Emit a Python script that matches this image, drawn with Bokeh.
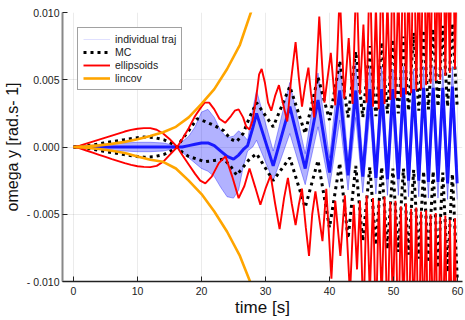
from bokeh.plotting import figure
from bokeh.models import Range1d, FixedTicker, Legend, LegendItem
from bokeh.embed import file_html
from bokeh.resources import INLINE

# ---------------- data ----------------
x_ticks = [0, 10, 20, 30, 40, 50, 60]
y_ticks = [-0.01, -0.005, 0.0, 0.005, 0.01]
y_tick_labels = ["- 0.010", "- 0.005", "0.000", "0.005", "0.010"]

# lincov (orange)
lc_t = [0, 2, 4, 6, 8, 10, 12, 14, 16, 18, 20, 22, 24, 26, 28, 29]
lc_up = [0, 0.00005, 0.00012, 0.00023, 0.00038, 0.00058, 0.00082, 0.0011, 0.0015,
         0.0022, 0.0032, 0.0043, 0.0058, 0.0076, 0.0104, 0.0118]
lc_lo = [0, -0.00006, -0.00015, -0.00028, -0.00045, -0.0007, -0.00095, -0.0011, -0.0016,
         -0.0025, -0.0035, -0.0048, -0.0063, -0.0081, -0.0105, -0.012]

# ellipsoids (red), upper curve
ell_up_t = [0, 1, 2, 3, 4, 5, 6, 7, 8, 9, 10, 11, 12, 13, 14, 15, 16.2, 17, 18, 19, 20,
            20.5, 21.2, 22, 22.8, 23.7, 24.6, 25.2, 25.8, 26.5, 27.0, 27.5, 28.0, 28.5,
            29.0, 29.4, 29.9, 30.4, 30.9, 31.5, 32.1, 32.7, 33.4, 34.0, 34.7, 35.2, 35.7,
            36.2, 36.7, 37.1, 37.6, 38.4, 39.2, 40.2, 40.9, 41.6, 42.3, 43.0, 43.6,
            44.2, 44.75, 45.3, 45.8, 46.3, 46.8, 47.25, 47.7, 48.15, 48.6, 49.05, 49.5,
            49.9, 50.3, 50.75, 51.15, 51.55, 51.95, 52.35, 52.75, 53.15, 53.55, 53.95,
            54.3, 54.7, 55.1, 55.45, 55.8, 56.2, 56.6, 56.95, 57.3, 57.7, 58.1, 58.45,
            58.8, 59.2, 59.6, 59.95]
ell_up = [0, 0.0001, 0.00025, 0.0004, 0.00055, 0.0007, 0.00085, 0.001, 0.00115, 0.00127,
          0.00136, 0.0014, 0.0014, 0.00128, 0.001, 0.0006, 0.0, 0.0006, 0.0014, 0.0023, 0.003,
          0.0033, 0.0033, 0.0028, 0.0021, 0.0018, 0.0023, 0.0027, 0.0028, 0.0022, 0.0015,
          0.0013, 0.002, 0.0035, 0.0054, 0.0058, 0.0048, 0.0033, 0.0027, 0.0038, 0.0046,
          0.0033, 0.0019, 0.005, 0.0078, 0.0052, 0.003, 0.0046, 0.0059, 0.004, 0.0022,
          0.0097, 0.0033, 0.0070, 0.0031, 0.0115, 0.0036, 0.0081, 0.0032,
          0.013, 0.0039, 0.0091, 0.0033, 0.014, 0.003, 0.0105, 0.0028, 0.015, 0.0032,
          0.011, 0.0035, 0.016, 0.0036, 0.012, 0.0037, 0.017, 0.0039, 0.0125, 0.004,
          0.018, 0.0042, 0.013, 0.0043, 0.018, 0.0046, 0.0135, 0.0047, 0.019, 0.0049,
          0.014, 0.005, 0.019, 0.0053, 0.0145, 0.0055, 0.02, 0.0058, 0.015]

# ellipsoids (red), lower curve
ell_lo_t = [0, 1, 2, 3, 4, 5, 6, 7, 8, 9, 10, 11, 12, 13, 14, 15, 16.2, 17, 18, 19, 19.8,
            20.6, 21.6, 22.7, 23.75, 24.8, 25.8, 26.7, 27.5, 28.4, 29.2, 30.0, 30.8, 31.5,
            32.2, 32.9, 33.5, 34.1, 34.7, 35.2, 35.7, 36.3, 36.8, 37.3, 37.8, 38.9, 39.5,
            40.3, 40.9, 41.7, 42.4, 43.2, 43.8,
            44.3, 44.75, 45.3, 45.8, 46.3, 46.8, 47.25, 47.7, 48.15, 48.6, 49.05, 49.5,
            49.9, 50.3, 50.75, 51.15, 51.55, 51.95, 52.35, 52.75, 53.15, 53.55, 53.95,
            54.3, 54.7, 55.1, 55.45, 55.8, 56.2, 56.6, 56.95, 57.3, 57.7, 58.1, 58.45,
            58.8, 59.2, 59.6, 59.95]
ell_lo = [0, -0.0001, -0.00026, -0.00042, -0.00058, -0.00074, -0.0009, -0.00105, -0.0012,
          -0.00133, -0.00143, -0.00148, -0.0015, -0.0014, -0.0011, -0.0006, 0.0, -0.0006,
          -0.0013, -0.002, -0.0025,
          -0.0027, -0.0022, -0.0012, -0.0007, -0.0022, -0.0038, -0.0029, -0.0016, -0.003,
          -0.0043, -0.0031, -0.0021, -0.0042, -0.0061, -0.0038, -0.0023, -0.0042, -0.0058,
          -0.0043, -0.0031, -0.006, -0.0081, -0.005, -0.0033, -0.007, -0.0031, -0.0098,
          -0.004, -0.0081, -0.0036, -0.011, -0.0043,
          -0.0091, -0.004, -0.013, -0.0036, -0.011, -0.0038, -0.0135, -0.004, -0.0115,
          -0.0037, -0.014, -0.0041, -0.012, -0.004, -0.015, -0.0044, -0.0125, -0.0042,
          -0.016, -0.0046, -0.013, -0.0045, -0.017, -0.0048, -0.0135, -0.0047, -0.018,
          -0.005, -0.014, -0.0049, -0.018, -0.0052, -0.0145, -0.0051, -0.019, -0.0054,
          -0.015, -0.0053, -0.02]

# MC (black dotted)
mc_t = [0, 1.6, 3.2, 4.7, 6.3, 7.9, 9.4, 11.0, 12.5, 14.1, 15.4, 16.2, 17, 18, 19.3, 20.5,
        22, 23.5, 24.5, 25.5, 26.5, 27.5,
        28.6, 31.2, 33.8, 36.2, 38.2, 40.0, 41.6, 42.9, 44.1, 45.2, 46.3, 47.25, 48.15,
        49.05, 49.9, 50.75, 51.55, 52.35, 53.15, 53.95, 54.7, 55.45, 56.2, 56.95, 57.7,
        58.45, 59.2, 59.95]
mc_up = [0, 0.00005, 0.00017, 0.0003, 0.00042, 0.00054, 0.00066, 0.00074, 0.00071,
         0.00054, 0.00024, 0, 0.0006, 0.0012, 0.0021, 0.0019, 0.0016, 0.0012, 0.0006,
         0.0004, 0.001, 0.0022,
         0.0033, 0.0015, 0.0045, 0.001, 0.0052, 0.002, 0.0064, 0.0022, 0.0071, 0.0022,
         0.0075, 0.0023, 0.0078, 0.0025, 0.008, 0.0025, 0.0082, 0.0027, 0.0085, 0.0027,
         0.0087, 0.0028, 0.0088, 0.003, 0.009, 0.003, 0.0092, 0.003]
mc_lo = [0, -0.00005, -0.00018, -0.00031, -0.00044, -0.00056, -0.00068, -0.00076,
         -0.00073, -0.00056, -0.00025, 0, -0.0004, -0.0007, -0.0009, -0.0011, -0.001,
         -0.0009, -0.0014, -0.0021, -0.0015, -0.0009,
         -0.0005, -0.0025, -0.0008, -0.0045, -0.001, -0.006, -0.0012, -0.0068, -0.0014,
         -0.007, -0.0015, -0.0073, -0.0015, -0.0076, -0.0016, -0.0078, -0.0016, -0.008,
         -0.0017, -0.0083, -0.0018, -0.0086, -0.0018, -0.009, -0.0019, -0.0093, -0.002,
         -0.0097]

# individual trajectories (blue): outer envelope and dense core
bl_t = [0, 2, 4, 6, 8, 10, 12, 14, 15, 16.2, 17, 18, 19, 20, 21, 22, 23, 24, 25, 25.8,
        26.5, 27.2, 28,
        28.6, 31.2, 33.8, 36.2, 38.2, 40.0, 41.6, 42.9, 44.1, 45.2, 46.3, 47.25, 48.15,
        49.05, 49.9, 50.75, 51.55, 52.35, 53.15, 53.95, 54.7, 55.45, 56.2, 56.95, 57.7,
        58.45, 59.2, 59.95]
bl_top = [0, 0.0001, 0.00018, 0.00025, 0.0003, 0.00035, 0.00035, 0.0003, 0.0002, 0.00005,
          0.0004, 0.0008, 0.0015, 0.0026, 0.0028, 0.0022, 0.0012, 0.0007, 0.0008, 0.0012,
          0.0009, 0.0005, 0.0028,
          0.0042, -0.0003, 0.0048, -0.0005, 0.0055, -0.0008, 0.0064, -0.001, 0.0062,
          -0.001, 0.006, -0.0011, 0.006, -0.0012, 0.0058, -0.0012, 0.006, -0.0013, 0.0058,
          -0.0013, 0.006, -0.0014, 0.006, -0.0014, 0.0058, -0.0015, 0.006, -0.0015]
bl_bot = [0, -0.0001, -0.00018, -0.00025, -0.0003, -0.00035, -0.00035, -0.0003, -0.0002,
          -0.00005, -0.0004, -0.0008, -0.0012, -0.0016, -0.0018, -0.0022, -0.003, -0.0037,
          -0.0038, -0.0032, -0.0015, -0.0003, 0.0,
          0.0005, -0.0025, 0.001, -0.0028, 0.0015, -0.003, 0.002, -0.0032, 0.0022, -0.0034,
          0.0025, -0.0035, 0.0025, -0.0036, 0.0026, -0.0036, 0.0027, -0.0037, 0.0027,
          -0.0037, 0.0028, -0.0038, 0.0028, -0.0038, 0.0029, -0.0039, 0.0029, -0.0039]
bl_core = [0, 0, 0, 0, 0, 0, 0, 0, 0, 0, 0, 0.0001, 0.0002, 0.0003, 0.0003, 0.0001, -0.0003,
           -0.0007, -0.0009, -0.0006, -0.0002, 0.0001, 0.0014,
           0.0025, -0.0014, 0.003, -0.0016, 0.0035, -0.0019, 0.0042, -0.0021, 0.0042,
           -0.0022, 0.0043, -0.0023, 0.0043, -0.0024, 0.0043, -0.0024, 0.0044, -0.0025,
           0.0043, -0.0025, 0.0044, -0.0026, 0.0044, -0.0026, 0.0044, -0.0027, 0.0045,
           -0.0027]

FONT = "Liberation Sans"

p = figure(width=465, height=320, output_backend="svg", toolbar_location=None,
           x_range=Range1d(-1.72, 60.78), y_range=Range1d(-0.01, 0.01),
           min_border_left=62, min_border_right=3, min_border_top=12, min_border_bottom=39)
p.outline_line_color = None
p.background_fill_color = "white"

# blue trajectories
p.varea(x=bl_t, y1=bl_bot, y2=bl_top, fill_color="#0000ff", fill_alpha=0.3)
p.line(bl_t, bl_top, line_color="#0000ff", line_alpha=0.35, line_width=1)
p.line(bl_t, bl_bot, line_color="#0000ff", line_alpha=0.35, line_width=1)
p.line(bl_t, bl_core, line_color="#0000ff", line_alpha=0.85, line_width=3)
traj_leg = p.line([0], [0], line_color="#0000ff", line_alpha=0.12, line_width=1)

# MC
mc1 = p.line(mc_t, mc_up, line_color="black", line_width=3, line_dash="3 4")
p.line(mc_t, mc_lo, line_color="black", line_width=3, line_dash="3 4")

# ellipsoids
e1 = p.line(ell_up_t, ell_up, line_color="#ff0000", line_width=1.9)
p.line(ell_lo_t, ell_lo, line_color="#ff0000", line_width=1.9)

# lincov
l1 = p.line(lc_t, lc_up, line_color="#ffa500", line_width=2.6)
p.line(lc_t, lc_lo, line_color="#ffa500", line_width=2.6)

legend = Legend(items=[
    LegendItem(label="individual traj", renderers=[traj_leg]),
    LegendItem(label="MC", renderers=[mc1]),
    LegendItem(label="ellipsoids", renderers=[e1]),
    LegendItem(label="lincov", renderers=[l1]),
], location="top_left")
legend.margin = 15
legend.padding = 5
legend.spacing = 1
legend.glyph_width = 27
legend.glyph_height = 10
legend.label_height = 10
legend.label_standoff = 5
legend.label_text_font = FONT
legend.label_text_font_size = "10.5px"
legend.label_text_color = "#222222"
legend.border_line_color = "#444444"
legend.border_line_width = 1
legend.background_fill_alpha = 1.0
p.add_layout(legend)

# axes
p.xaxis.ticker = FixedTicker(ticks=x_ticks)
p.yaxis.ticker = FixedTicker(ticks=y_ticks)
p.yaxis.major_label_overrides = {v: s for v, s in zip(y_ticks, y_tick_labels)}
for ax in (p.xaxis[0], p.yaxis[0]):
    ax.major_tick_in = 5
    ax.major_tick_out = 0
    ax.minor_tick_line_color = None
    ax.major_label_text_font = FONT
    ax.major_label_text_font_size = "10.5px"
    ax.major_label_text_color = "#222222"
    ax.axis_label_text_font = FONT
    ax.axis_label_text_font_style = "normal"
    ax.axis_label_text_color = "#111111"
    ax.major_tick_line_color = "#222222"
p.xaxis.axis_line_color = "#222222"
p.xaxis.axis_line_width = 1.5
p.yaxis.axis_line_color = "#888888"
p.yaxis.axis_line_width = 2
p.xaxis.major_label_standoff = 5
p.yaxis.major_label_standoff = 3
p.xaxis.axis_label = "time [s]"
p.xaxis.axis_label_text_font_size = "17px"
p.xaxis.axis_label_standoff = 0
p.yaxis.axis_label = "omega y [rad.s- 1]"
p.yaxis.axis_label_text_font_size = "16px"
p.yaxis.axis_label_standoff = 3

p.xgrid.grid_line_color = "black"
p.xgrid.grid_line_alpha = 0.08
p.ygrid.grid_line_color = "black"
p.ygrid.grid_line_alpha = 0.08

open("out.html", "w").write(file_html(p, INLINE))
